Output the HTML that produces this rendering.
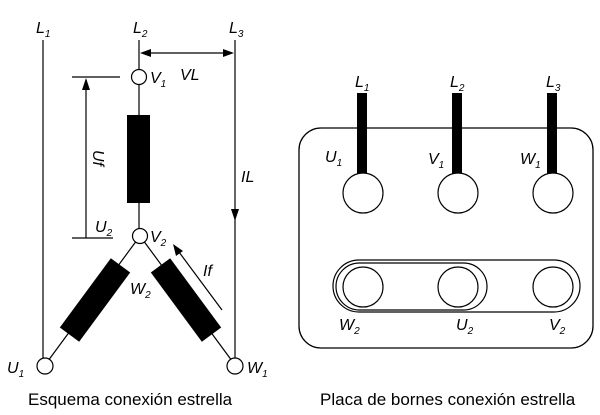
<!DOCTYPE html>
<html><head><style>
html,body{margin:0;padding:0;background:#fff;}
svg{display:block;}
text{font-family:"Liberation Sans",sans-serif;fill:#000;}
.i{font-style:italic;}
</style></head><body>
<svg width="600" height="415" viewBox="0 0 600 415" xmlns="http://www.w3.org/2000/svg">
<g stroke="#000" stroke-width="1.2" fill="none">
<line x1="43" y1="40" x2="43" y2="358"/>
<line x1="139" y1="40" x2="139" y2="70"/>
<line x1="235" y1="40" x2="235" y2="358"/>
<line x1="144" y1="53" x2="230" y2="53"/>
<line x1="72" y1="77" x2="120" y2="77"/>
<line x1="72" y1="238" x2="113" y2="238"/>
<line x1="86" y1="80" x2="86" y2="238"/>
<line x1="139" y1="84" x2="139" y2="229"/>
<line x1="140" y1="236" x2="45" y2="365"/>
<line x1="140" y1="236" x2="235" y2="365"/>
<line x1="222" y1="310" x2="176" y2="248"/>
</g>
<g fill="#000">
<polygon points="140,53 151,49 151,57"/>
<polygon points="234,53 223,49 223,57"/>
<polygon points="86,78 82,90 90,90"/>
<polygon points="235,221 231,209 239,209"/>
<polygon points="173,244 176,256 183,251"/>
<rect x="127" y="115" width="23" height="88"/>
<rect x="-12" y="-43" width="24" height="86" transform="translate(95,300) rotate(36.4)"/>
<rect x="-12" y="-43" width="24" height="86" transform="translate(186,300) rotate(-36.4)"/>
</g>
<g stroke="#000" stroke-width="1.2" fill="#fff">
<circle cx="139" cy="77" r="7.5"/>
<circle cx="140" cy="236" r="7.5"/>
<circle cx="45" cy="366" r="8"/>
<circle cx="235" cy="366" r="8"/>
</g>
<g class="i" font-size="16">
<text x="36" y="33">L<tspan font-size="10" dy="4">1</tspan></text>
<text x="133" y="33">L<tspan font-size="10" dy="4">2</tspan></text>
<text x="229" y="33">L<tspan font-size="10" dy="4">3</tspan></text>
<text x="150" y="83">V<tspan font-size="10" dy="4">1</tspan></text>
<text x="180" y="80">VL</text>
<text x="241" y="182">IL</text>
<text x="95" y="232">U<tspan font-size="10" dy="4">2</tspan></text>
<text x="150" y="242">V<tspan font-size="10" dy="4">2</tspan></text>
<text x="203" y="276">If</text>
<text x="130" y="294">W<tspan font-size="10" dy="4">2</tspan></text>
<text x="7" y="373">U<tspan font-size="10" dy="4">1</tspan></text>
<text x="247" y="373">W<tspan font-size="10" dy="4">1</tspan></text>
<text transform="translate(93,150) rotate(90)">Uf</text>
</g>
<text x="28" y="405" font-size="17">Esquema conexión estrella</text>

<rect x="299" y="128" width="294" height="220" rx="22" fill="none" stroke="#000" stroke-width="1.3"/>
<g fill="#000">
<rect x="357" y="93" width="10" height="81"/>
<rect x="452" y="93" width="10" height="81"/>
<rect x="547" y="93" width="10" height="81"/>
</g>
<g stroke="#000" stroke-width="1.2" fill="#fff">
<rect x="333" y="260" width="247" height="52" rx="26"/>
<rect x="336" y="263" width="151" height="47" rx="23.5"/>
<circle cx="363" cy="193" r="20"/>
<circle cx="458" cy="193" r="20"/>
<circle cx="553" cy="193" r="20"/>
<circle cx="363" cy="287" r="20"/>
<circle cx="458" cy="287" r="20"/>
<circle cx="553" cy="287" r="20"/>
</g>
<g class="i" font-size="16">
<text x="355" y="87">L<tspan font-size="10" dy="4">1</tspan></text>
<text x="450" y="87">L<tspan font-size="10" dy="4">2</tspan></text>
<text x="546" y="87">L<tspan font-size="10" dy="4">3</tspan></text>
<text x="325" y="162">U<tspan font-size="10" dy="4">1</tspan></text>
<text x="428" y="164">V<tspan font-size="10" dy="4">1</tspan></text>
<text x="520" y="164">W<tspan font-size="10" dy="4">1</tspan></text>
<text x="339" y="330">W<tspan font-size="10" dy="4">2</tspan></text>
<text x="456" y="330">U<tspan font-size="10" dy="4">2</tspan></text>
<text x="549" y="330">V<tspan font-size="10" dy="4">2</tspan></text>
</g>
<text x="320" y="405" font-size="17">Placa de bornes conexión estrella</text>
</svg>
</body></html>
